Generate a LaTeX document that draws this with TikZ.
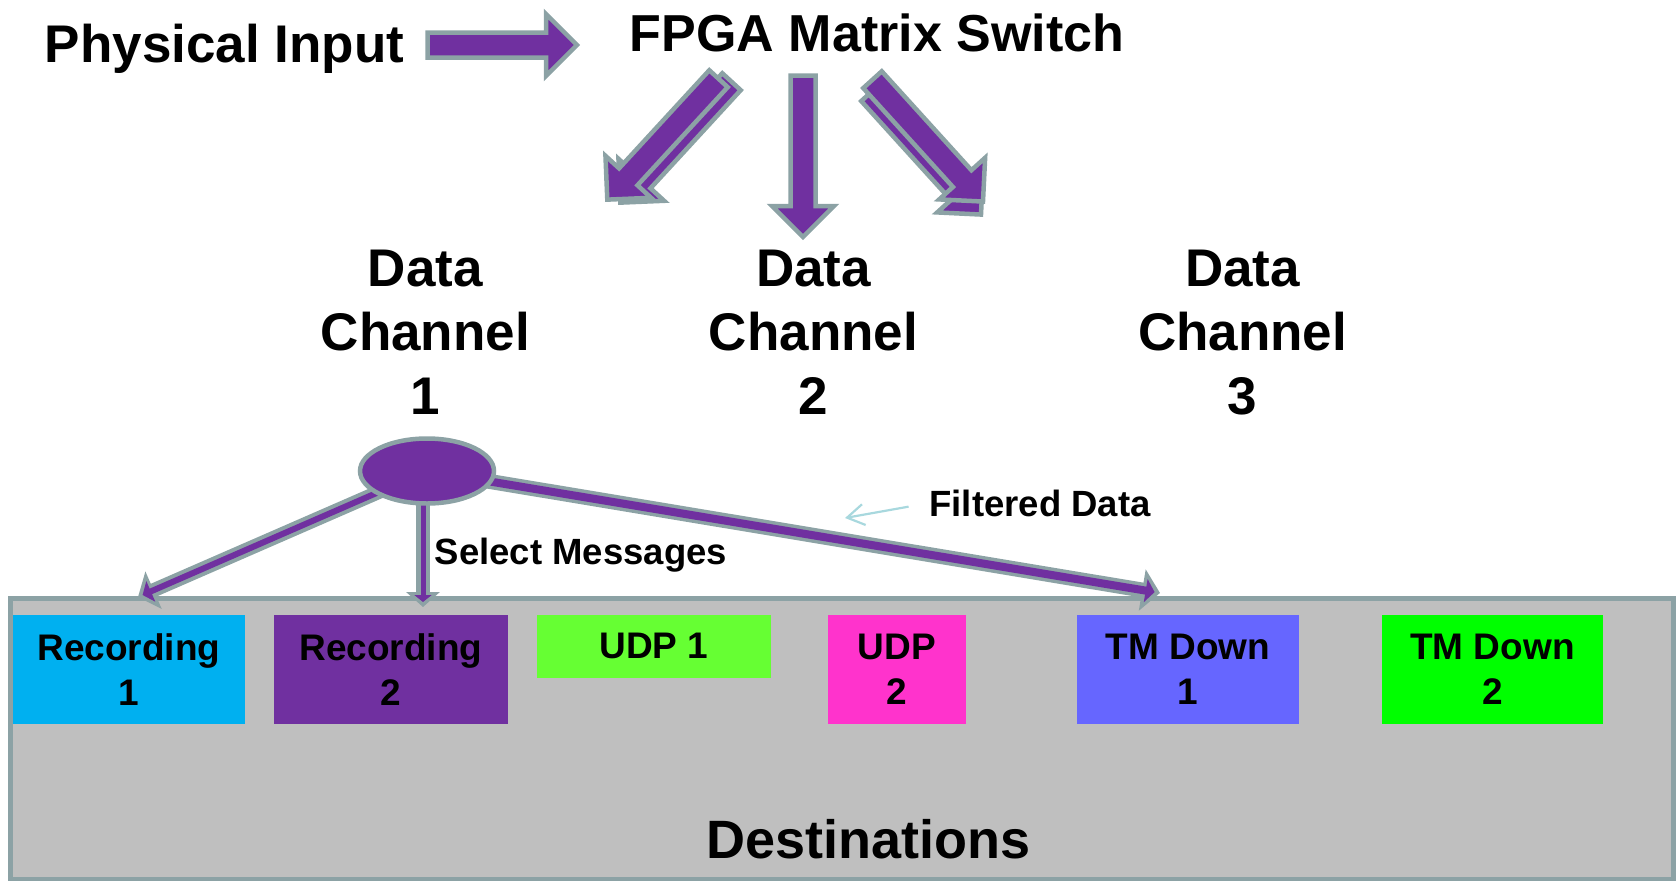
\documentclass[tikz,border=0pt]{standalone}
\usepackage{fontspec}
\setmainfont{Liberation Sans}
\usetikzlibrary{shapes.geometric,arrows.meta}

\definecolor{vio}{HTML}{7030A0}
\definecolor{rim}{RGB}{140,162,165}
\definecolor{panelgray}{RGB}{191,191,191}
\definecolor{recA}{HTML}{00B0F0}
\definecolor{udpA}{HTML}{66FF33}
\definecolor{udpB}{HTML}{FF33CC}
\definecolor{tmA}{HTML}{6666FF}
\definecolor{tmB}{HTML}{00FF00}
\definecolor{hint}{RGB}{168,216,222}

\pgfdeclarelayer{back}
\pgfdeclarelayer{mid}
\pgfsetlayers{back,mid,main}

\tikzset{
  fatarrow/.style={fill=vio,draw=rim,line width=4.5pt,line join=miter},
  bigtext/.style={inner sep=0pt,font=\bfseries\fontsize{53}{64}\selectfont,align=center},
  midtext/.style={inner sep=0pt,font=\bfseries\fontsize{36.5}{44}\selectfont},
  destbox/.style={rectangle,inner sep=0pt,align=center,
    font=\bfseries\fontsize{37}{45}\selectfont},
  hub/.style={ellipse,fill=vio,draw=rim,line width=4.5pt,inner sep=0pt,
    minimum width=134pt,minimum height=65pt},
  link outer/.style n args={3}{draw=rim,line width=#1,-{Triangle[length=#2,width=#3]}},
  link inner/.style n args={4}{draw=vio,line width=#1,-{Triangle[length=#2,width=#3]},shorten >=#4},
  pointer/.style={draw=hint,line width=2.2pt,-{Straight Barb[length=17pt,width=21pt]}},
}

% block arrow: [style]{start}{angle}{length}
\newcommand\fatarrow[4][]{%
  \draw[fatarrow,#1,shift={#2},rotate=#3]
    (0,-12.5) -- ({#4-31},-12.5) -- ({#4-31},-31) -- (#4,0)
    -- ({#4-31},31) -- ({#4-31},12.5) -- (0,12.5) -- cycle;}

\begin{document}
\begin{tikzpicture}[x=1pt,y=-1pt]
\useasboundingbox (0,0) rectangle (1676,881);

% headings
\node[bigtext,anchor=base] (phys) at (224.5,62) {Physical Input};
\node[bigtext,anchor=base,font=\bfseries\fontsize{52}{62}\selectfont] (fpga) at (877,51) {FPGA Matrix Switch};

% input arrow and the three fan-out arrows (each fan-out arrow is doubled)
\fatarrow{(427.5,45)}{0}{149.5}
\fatarrow{(731.5,81.7)}{-132.6}{164.3}
\fatarrow{(718.5,78.7)}{-132.6}{164.3}
\fatarrow{(803,75.5)}{-90}{161.5}
\fatarrow{(870.5,92.7)}{-47.8}{164.5}
\fatarrow{(872.5,79.7)}{-47.8}{164.5}

% data channels
\node[bigtext] (ch1) at (425.4,332.7) {Data\\Channel\\1};
\node[bigtext] (ch2) at (813.5,332.7) {Data\\Channel\\2};
\node[bigtext] (ch3) at (1242.6,332.7) {Data\\Channel\\3};

% destinations panel
\begin{pgfonlayer}{back}
  \draw[fill=panelgray,draw=rim,line width=4.5pt] (10.5,598.5) rectangle (1673.5,879);
  \node[destbox,fill=recA,minimum width=232pt,minimum height=109.5pt] (rec1) at (129,669.25) {Recording\\1};
  \node[destbox,fill=vio,minimum width=234pt,minimum height=109.5pt] (rec2) at (391,669.25) {Recording\\2};
  \node[destbox,fill=udpA,minimum width=234pt,minimum height=63pt] (udp1) at (654,646.1) {UDP 1};
  \node[destbox,fill=udpB,minimum width=138pt,minimum height=109.5pt] (udp2) at (897,669.25) {UDP\\2};
  \node[destbox,fill=tmA,minimum width=222pt,minimum height=109.5pt] (tm1) at (1188,669.25) {TM Down\\1};
  \node[destbox,fill=tmB,minimum width=221pt,minimum height=109.5pt] (tm2) at (1492.5,669.25) {TM Down\\2};
\end{pgfonlayer}
\node[bigtext,anchor=base,font=\bfseries\fontsize{54}{64}\selectfont] (dest) at (868.5,858) {Destinations};

% selector and its outputs
\node[hub] (sel) at (427,471) {};
\coordinate (r1in) at (138,597);
\coordinate (r2in) at (423,607);
\coordinate (t1in) at (1160,593);
\begin{pgfonlayer}{mid}
  \draw[link outer={14pt}{17pt}{40pt}] (sel.center) -- (r1in);
  \draw[link inner={6pt}{9pt}{22pt}{5pt}] (sel.center) -- (r1in);
  \draw[link outer={14pt}{15pt}{33pt}] (sel.center -| r2in) -- (r2in);
  \draw[link inner={5pt}{7pt}{17pt}{5pt}] (sel.center -| r2in) -- (r2in);
  \draw[link outer={15pt}{18pt}{41pt}] (sel.center) -- (t1in);
  \draw[link inner={8pt}{9pt}{23pt}{5.5pt}] (sel.center) -- (t1in);
\end{pgfonlayer}

\node[midtext,anchor=base] (selmsg) at (581,564) {Select Messages};
\node[midtext,anchor=base] (fd) at (1040,516) {Filtered Data};
\coordinate (fdtip) at (845,518);
\draw[pointer,shorten <=21pt] (fd.west) -- (fdtip);
\end{tikzpicture}
\end{document}
